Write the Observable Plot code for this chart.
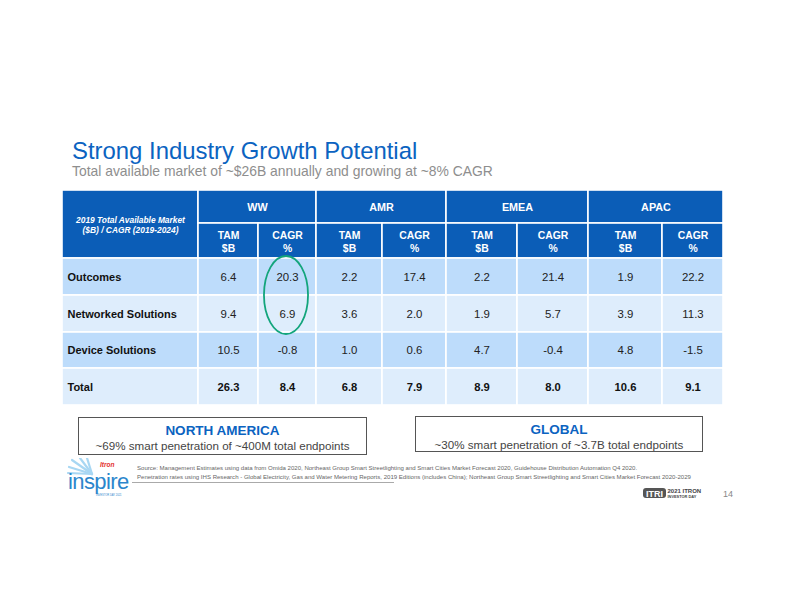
<!DOCTYPE html>
<html>
<head>
<meta charset="utf-8">
<script src="https://cdn.jsdelivr.net/npm/d3@7"></script>
<script src="https://cdn.jsdelivr.net/npm/@observablehq/plot@0.6"></script>
<style>
  html, body { margin: 0; padding: 0; background: #fff; }
  #slide { position: relative; width: 792px; height: 612px; overflow: hidden; font-family: "Liberation Sans", Arial, sans-serif; }
  .abs { position: absolute; white-space: nowrap; }
  #title { left: 72px; top: 139px; font-size: 23.9px; line-height: 23.9px; color: #0b63c1; }
  #subtitle { left: 72px; top: 164px; font-size: 13.9px; line-height: 14px; color: #8e8e8e; }
  #chart { position: absolute; left: 0; top: 188px; }
  .box { position: absolute; box-sizing: border-box; border: 1px solid #555; background: #fff; }
  .box .head { position: absolute; left: 0; right: 0; text-align: center; font-weight: bold; font-size: 13.5px; line-height: 11px; color: #0b63c1; }
  .box .sub { position: absolute; left: 0; right: 0; text-align: center; font-size: 11.6px; line-height: 10px; color: #444; }
  .src { left: 137px; font-size: 6.05px; line-height: 6px; color: #666; }
  #rule { position: absolute; left: 132px; top: 482px; width: 262px; height: 0; border-top: 1px solid #aaa; }
</style>
</head>
<body>
<div id="slide">
  <div id="title" class="abs">Strong Industry Growth Potential</div>
  <div id="subtitle" class="abs">Total available market of ~$26B annually and growing at ~8% CAGR</div>
  <div id="chart"></div>

  <div class="box" style="left:78px; top:417px; width:289px; height:38px;">
    <div class="head" style="top:7px;">NORTH AMERICA</div>
    <div class="sub" style="top:23px;">~69% smart penetration of ~400M total endpoints</div>
  </div>
  <div class="box" style="left:415px; top:416px; width:288px; height:36px;">
    <div class="head" style="top:7px;">GLOBAL</div>
    <div class="sub" style="top:23px;">~30% smart penetration of ~3.7B total endpoints</div>
  </div>

  <div class="abs src" style="top:465px;">Source: Management Estimates using data from Omida 2020, Northeast Group Smart Streetlighting and Smart Cities Market Forecast 2020, Guidehouse Distribution Automation Q4 2020.</div>
  <div class="abs src" style="top:474px;">Penetration rates using IHS Research - Global Electricity, Gas and Water Metering Reports, 2019 Editions (includes China); Northeast Group Smart Streetlighting and Smart Cities Market Forecast 2020-2029</div>
  <div id="rule"></div>

  <!-- inspire logo -->
  <svg class="abs" style="left:66px; top:458px;" width="66" height="40">
    <g stroke="#9fd3f2" stroke-width="2.2" stroke-linecap="round" opacity="0.9">
      <line x1="26" y1="16" x2="6" y2="2"/>
      <line x1="26" y1="16" x2="3" y2="9"/>
      <line x1="26" y1="16" x2="14" y2="0"/>
      <line x1="26" y1="16" x2="2" y2="15"/>
      <line x1="26" y1="16" x2="21" y2="0"/>
    </g>
    <text x="34" y="9" font-family="Liberation Sans, Arial, sans-serif" font-size="6.5" font-weight="bold" font-style="italic" fill="#e3312d">Itron</text>
    <text x="2" y="31" font-family="Liberation Sans, Arial, sans-serif" font-size="22" fill="#2b86cc" letter-spacing="-0.6">inspire</text>
    <text x="30" y="37.5" font-family="Liberation Sans, Arial, sans-serif" font-size="2.6" fill="#2b86cc">INVESTOR DAY 2021</text>
  </svg>

  <!-- ITRI logo -->
  <svg class="abs" style="left:640px; top:486px;" width="100" height="14">
    <rect x="3" y="2" width="23" height="10" rx="3" fill="#555"/>
    <text x="14.5" y="10.5" text-anchor="middle" font-family="Liberation Sans, Arial, sans-serif" font-size="9" font-weight="bold" fill="#fff">ITRI</text>
    <text x="27.5" y="7" font-family="Liberation Sans, Arial, sans-serif" font-size="6" font-weight="bold" fill="#444">2021 ITRON</text>
    <text x="27.5" y="11.5" font-family="Liberation Sans, Arial, sans-serif" font-size="3.9" font-weight="bold" fill="#444">INVESTOR DAY</text>
    <text x="83" y="11" font-family="Liberation Sans, Arial, sans-serif" font-size="9" fill="#888">14</text>
  </svg>
</div>

<script>
// ---------- data ----------
const cornerLabel = "2019 Total Available Market\n($B) / CAGR (2019-2024)";
const regions = ["WW", "AMR", "EMEA", "APAC"];
const metrics = ["TAM\n$B", "CAGR\n%"];
const segments = ["Outcomes", "Networked Solutions", "Device Solutions", "Total"];
// values per segment, ordered WW TAM, WW CAGR, AMR TAM, AMR CAGR, EMEA TAM, EMEA CAGR, APAC TAM, APAC CAGR
const outcomes  = [6.4, 20.3, 2.2, 17.4, 2.2, 21.4, 1.9, 22.2];
const networked = [9.4, 6.9, 3.6, 2.0, 1.9, 5.7, 3.9, 11.3];
const device    = [10.5, -0.8, 1.0, 0.6, 4.7, -0.4, 4.8, -1.5];
const total     = [26.3, 8.4, 6.8, 7.9, 8.9, 8.0, 10.6, 9.1];
const highlightColumn = 1;                        // WW CAGR
const highlightSegments = ["Outcomes", "Networked Solutions"];

// ---------- layout ----------
const colW = [136, 60, 58, 66, 64, 71, 71, 74, 61];
const rowH = [33, 35, 37, 37, 36, 37];
const colX = [0, ...d3.cumsum(colW)];
const rowY = [0, ...d3.cumsum(rowH)];
const values = [outcomes, networked, device, total];

const HEAD = "#0b5db7", DARK = "#bddcfb", LIGHT = "#deedfc";

// cells
const cells = [];
cells.push({x1: colX[0], x2: colX[1], y1: rowY[0], y2: rowY[2], kind: "head"});
regions.forEach((r, i) => cells.push({x1: colX[1 + 2 * i], x2: colX[3 + 2 * i], y1: rowY[0], y2: rowY[1], kind: "head"}));
for (let c = 0; c < 8; c++) cells.push({x1: colX[1 + c], x2: colX[2 + c], y1: rowY[1], y2: rowY[2], kind: "head"});
segments.forEach((s, r) => {
  for (let c = 0; c < 9; c++) cells.push({x1: colX[c], x2: colX[c + 1], y1: rowY[2 + r], y2: rowY[3 + r], kind: r % 2 ? "light" : "dark"});
});

const regionText = regions.map((r, i) => ({text: r, x: (colX[1 + 2 * i] + colX[3 + 2 * i]) / 2, y: (rowY[0] + rowY[1]) / 2}));
const metricText = d3.range(8).map(c => ({text: metrics[c % 2], x: (colX[1 + c] + colX[2 + c]) / 2, y: (rowY[1] + rowY[2]) / 2}));
const segText = segments.map((s, r) => ({text: s, x: colX[0], y: (rowY[2 + r] + rowY[3 + r]) / 2}));
const valText = [];
values.forEach((arr, r) => arr.forEach((v, c) => valText.push({
  text: v.toFixed(1), x: (colX[1 + c] + colX[2 + c]) / 2, y: (rowY[2 + r] + rowY[3 + r]) / 2, bold: segments[r] === "Total"
})));

const H = 219;
const plot = Plot.plot({
  width: 792, height: H,
  marginLeft: 62, marginRight: 69, marginTop: 2, marginBottom: 2,
  x: {domain: [0, colX[colX.length - 1]], range: [62, 723], axis: null},
  y: {domain: [0, rowY[rowY.length - 1]], range: [2, H - 2], axis: null},
  style: {fontFamily: "Liberation Sans, Arial, sans-serif", background: "transparent", overflow: "visible"},
  marks: [
    Plot.rect(cells, {x1: "x1", x2: "x2", y1: "y1", y2: "y2",
      fill: d => d.kind === "head" ? HEAD : d.kind === "dark" ? DARK : LIGHT,
      stroke: "#fff", strokeWidth: 1.6}),
    Plot.text([{text: cornerLabel, x: (colX[0] + colX[1]) / 2, y: rowY[2] / 2}], {
      x: "x", y: "y", text: "text", fill: "#fff", fontSize: 8.4, fontWeight: "bold", fontStyle: "italic", lineHeight: 1.25}),
    Plot.text(regionText, {x: "x", y: "y", text: "text", fill: "#fff", fontSize: 10.8, fontWeight: "bold", dy: 1}),
    Plot.text(metricText, {x: "x", y: "y", text: "text", fill: "#fff", fontSize: 10.4, fontWeight: "bold", lineHeight: 1.3}),
    Plot.text(segText, {x: "x", y: "y", text: "text", fill: "#111", fontSize: 11, fontWeight: "bold", textAnchor: "start", dx: 5}),
    Plot.text(valText.filter(d => !d.bold), {x: "x", y: "y", text: "text", fill: "#222", fontSize: 11.4}),
    Plot.text(valText.filter(d => d.bold), {x: "x", y: "y", text: "text", fill: "#111", fontSize: 11.2, fontWeight: "bold"})
  ]
});

// highlight ellipse around the WW CAGR values of Outcomes & Networked Solutions
const xs = plot.scale("x"), ys = plot.scale("y");
const r0 = segments.indexOf(highlightSegments[0]), r1 = segments.indexOf(highlightSegments[highlightSegments.length - 1]);
const cx = xs.apply((colX[1 + highlightColumn] + colX[2 + highlightColumn]) / 2) - 1;
const yTop = ys.apply(rowY[2 + r0]), yBot = ys.apply(rowY[3 + r1]);
d3.select(plot).append("ellipse")
  .attr("cx", cx).attr("cy", (yTop + yBot) / 2)
  .attr("rx", (xs.apply(colX[2 + highlightColumn]) - xs.apply(colX[1 + highlightColumn])) * 0.38)
  .attr("ry", (yBot - yTop) / 2 + 2)
  .attr("fill", "none").attr("stroke", "#13a57c").attr("stroke-width", 1.8);

document.getElementById("chart").appendChild(plot);
</script>
</body>
</html>
